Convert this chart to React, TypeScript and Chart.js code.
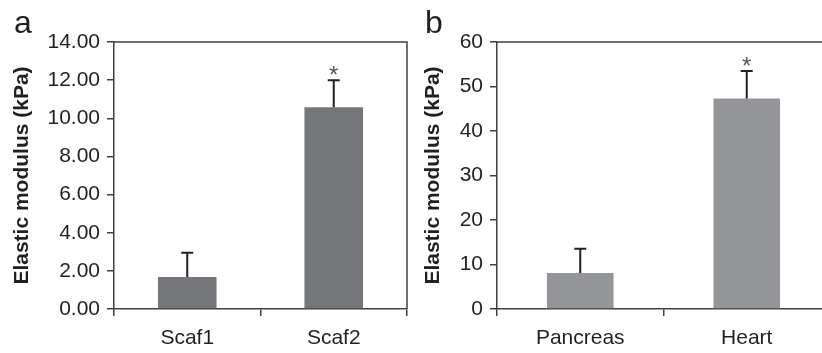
import React, { useEffect, useRef } from "react";
import { Chart, registerables } from "chart.js";

Chart.register(...registerables);

// ---- Data ----
const scafLabels = ["Scaf1", "Scaf2"];
const scafMeans = [1.68, 10.58];
const scafErrors = [1.27, 1.42];
const scafMarks = ["", "*"];
const scafAxis = { min: 0, max: 14, step: 2, decimals: 2 };

const tissueLabels = ["Pancreas", "Heart"];
const tissueMeans = [8.1, 47.3];
const tissueErrors = [5.45, 6.2];
const tissueMarks = ["", "*"];
const tissueAxis = { min: 0, max: 60, step: 10, decimals: 0 };

const yTitle = "Elastic modulus (kPa)";

const FONT = "'Liberation Sans', Arial, Helvetica, sans-serif";
const TEXT = "#231f20";
const AXIS = "#404040";

type PanelProps = {
  letter: string;
  labels: string[];
  means: number[];
  errors: number[];
  marks: string[];
  axis: { min: number; max: number; step: number; decimals: number };
  color: string;
  canvasWidth: number;
  yWidth: number;
  rightPad: number;
  fullBox: boolean;
};

function Panel(p: PanelProps) {
  const ref = useRef<HTMLCanvasElement | null>(null);
  useEffect(() => {
    if (!ref.current) return;
    const overlay = {
      id: "overlay",
      afterDatasetsDraw(chart: any) {
        const ctx = chart.ctx;
        const xs = chart.scales.x;
        const ys = chart.scales.y;
        const ca = chart.chartArea;
        ctx.save();
        // frame
        ctx.strokeStyle = AXIS;
        ctx.lineWidth = 1.5;
        ctx.beginPath();
        ctx.moveTo(ca.left, ca.top);
        ctx.lineTo(ca.right, ca.top);
        if (p.fullBox) {
          ctx.lineTo(ca.right, ca.bottom);
        }
        ctx.stroke();
        // error bars
        ctx.strokeStyle = TEXT;
        ctx.lineWidth = 2;
        p.means.forEach((m, i) => {
          const cx = xs.getPixelForValue(i);
          const yb = ys.getPixelForValue(m);
          const yt = ys.getPixelForValue(m + p.errors[i]);
          ctx.beginPath();
          ctx.moveTo(cx, yb);
          ctx.lineTo(cx, yt);
          ctx.moveTo(cx - 6, yt);
          ctx.lineTo(cx + 6, yt);
          ctx.stroke();
          const mark = p.marks[i];
          if (mark) {
            ctx.font = `24px ${FONT}`;
            ctx.fillStyle = "#555555";
            ctx.textAlign = "center";
            ctx.textBaseline = "alphabetic";
            const mt = ctx.measureText(mark);
            const asc = mt.actualBoundingBoxAscent || 15;
            const desc = mt.actualBoundingBoxDescent || -8;
            const center = yt - 9.5;
            const base = center + (asc - desc) / 2;
            ctx.fillText(mark, cx, base);
          }
        });
        // panel letter
        ctx.font = `32px ${FONT}`;
        ctx.fillStyle = TEXT;
        ctx.textAlign = "left";
        ctx.textBaseline = "alphabetic";
        ctx.fillText(p.letter, 14, 32.5);
        ctx.restore();
      },
    };
    const chart = new Chart(ref.current, {
      type: "bar",
      data: {
        labels: p.labels,
        datasets: [
          {
            data: p.means,
            backgroundColor: p.color,
            borderWidth: 0,
            barPercentage: 0.4,
            categoryPercentage: 1,
          },
        ],
      },
      options: {
        responsive: false,
        animation: false,
        devicePixelRatio: 1,
        layout: { padding: { top: 42, right: p.rightPad, left: 0, bottom: 0 } },
        plugins: {
          legend: { display: false },
          tooltip: { enabled: false },
          title: { display: false },
        },
        scales: {
          x: {
            grid: {
              display: true,
              offset: true,
              drawOnChartArea: false,
              drawTicks: true,
              tickLength: 7,
              color: AXIS,
              lineWidth: 1.5,
            },
            border: { display: true, color: AXIS, width: 1.5 },
            ticks: {
              color: TEXT,
              font: { family: FONT, size: 21 },
              padding: 10,
              maxRotation: 0,
            },
            afterFit(scale: any) {
              scale.height = 44;
            },
          },
          y: {
            min: p.axis.min,
            max: p.axis.max,
            grid: {
              display: true,
              drawOnChartArea: false,
              drawTicks: true,
              tickLength: 7,
              color: AXIS,
              lineWidth: 1.5,
            },
            border: { display: true, color: AXIS, width: 1.5 },
            ticks: {
              stepSize: p.axis.step,
              color: TEXT,
              font: { family: FONT, size: 21 },
              padding: 7,
              callback: (v: any) => Number(v).toFixed(p.axis.decimals),
            },
            title: {
              display: true,
              text: yTitle,
              color: TEXT,
              font: { family: FONT, size: 21, weight: "bold" },
              padding: { top: 10, bottom: 0 },
            },
            afterFit(scale: any) {
              scale.width = p.yWidth;
            },
          },
        },
      },
      plugins: [overlay],
    } as any);
    return () => chart.destroy();
  }, []);
  return <canvas ref={ref} width={p.canvasWidth} height={353} style={{ display: "block" }} />;
}

export default function App() {
  return (
    <div
      style={{
        position: "fixed",
        left: 0,
        top: 0,
        width: 822,
        height: 353,
        background: "#ffffff",
        overflow: "hidden",
      }}
    >
      <div style={{ position: "absolute", left: 0, top: 0, width: 411, height: 353, overflow: "hidden" }}>
        <Panel
          letter="a"
          labels={scafLabels}
          means={scafMeans}
          errors={scafErrors}
          marks={scafMarks}
          axis={scafAxis}
          color="#76777b"
          canvasWidth={411}
          yWidth={114}
          rightPad={4}
          fullBox={true}
        />
      </div>
      <div style={{ position: "absolute", left: 411, top: 0, width: 411, height: 353, overflow: "hidden" }}>
        <Panel
          letter="b"
          labels={tissueLabels}
          means={tissueMeans}
          errors={tissueErrors}
          marks={tissueMarks}
          axis={tissueAxis}
          color="#939598"
          canvasWidth={420}
          yWidth={86}
          rightPad={1}
          fullBox={false}
        />
      </div>
    </div>
  );
}
